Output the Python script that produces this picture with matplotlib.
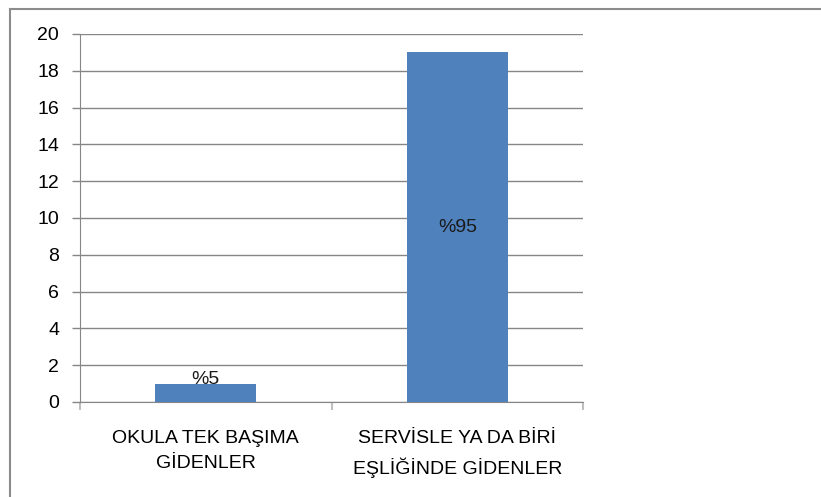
import matplotlib.pyplot as plt
from matplotlib.lines import Line2D

# chart data
categories = ["OKULA TEK BAŞIMA\nGİDENLER", "SERVİSLE YA DA BİRİ\nEŞLİĞİNDE GİDENLER"]
counts = [1, 19]
pct_labels = ["%5", "%95"]
y_ticks = [0, 2, 4, 6, 8, 10, 12, 14, 16, 18, 20]

BAR_COLOR = "#4F81BD"
GRID_COLOR = "#868686"

plt.rcParams["font.family"] = ["Liberation Sans", "DejaVu Sans"]

fig = plt.figure(figsize=(8.21, 4.97), dpi=100)
ax = fig.add_axes([80 / 821, 95 / 497, 503 / 821, 368 / 497])

x = list(range(len(categories)))
bars = ax.bar(x, counts, width=0.4, color=BAR_COLOR, zorder=3)

# data labels: centred in the bar, or on the top edge when the bar is too short
for rect, val, lab in zip(bars, counts, pct_labels):
    cx = rect.get_x() + rect.get_width() / 2
    if val < 3:
        ax.annotate(lab, (cx, val), xytext=(0, 3), textcoords="offset points",
                    ha="center", va="center", fontsize=14, color="#1a1a1a", zorder=4)
    else:
        ax.text(cx, val / 2, lab, ha="center", va="center", fontsize=14,
                color="#1a1a1a", zorder=4)

ax.set_xlim(-0.5, len(categories) - 0.5)
ax.set_ylim(0, 20)
ax.set_yticks(y_ticks)
ax.yaxis.grid(True, color=GRID_COLOR, linewidth=1.0, zorder=0)

ax.set_xticks(x)
ax.set_xticklabels(categories, fontsize=14, linespacing=1.62)
ax.set_xticks([i - 0.5 for i in range(len(categories) + 1)], minor=True)
ax.tick_params(axis="x", which="major", length=0, pad=20)
ax.tick_params(axis="x", which="minor", length=6, color="#bfbfbf", width=1.5)
ax.tick_params(axis="y", length=6, color=GRID_COLOR, width=1.0, pad=9, labelsize=14)

for side in ("top", "right"):
    ax.spines[side].set_visible(False)
ax.spines["left"].set_color(GRID_COLOR)
ax.spines["bottom"].set_color(GRID_COLOR)

# outer chart frame (top and left edge visible in the crop)
fig.add_artist(Line2D([10 / 821, 10 / 821], [0, 1 - 9 / 497], transform=fig.transFigure,
                      color="#8c8c8c", linewidth=1.5))
fig.add_artist(Line2D([10 / 821, 1], [1 - 9 / 497, 1 - 9 / 497], transform=fig.transFigure,
                      color="#8c8c8c", linewidth=1.5))

fig.savefig("out.png", dpi=100)
